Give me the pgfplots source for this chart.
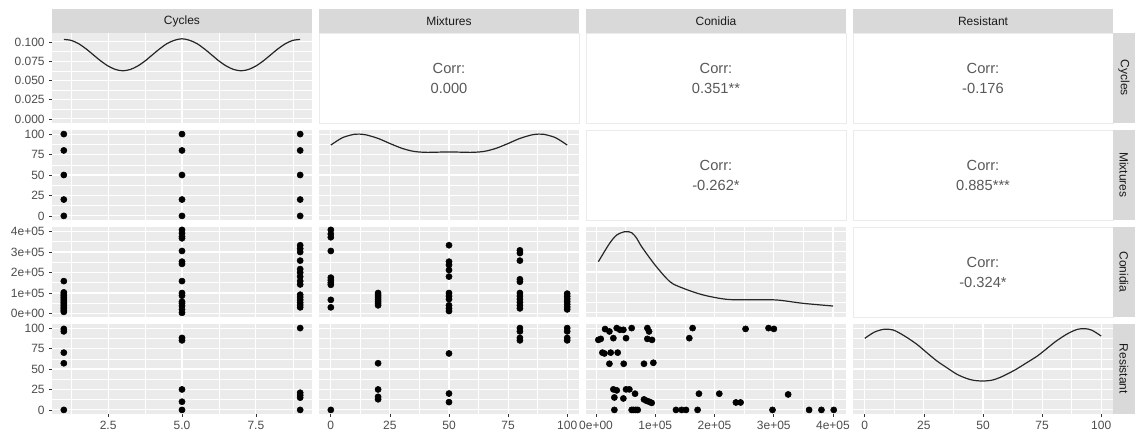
\documentclass[border=0pt]{standalone}
\usepackage{fontspec}
\setmainfont{Liberation Sans}
\usepackage{pgfplots}
\pgfplotsset{compat=1.18}
\definecolor{ggbg}{HTML}{EBEBEB}
\definecolor{ggstrip}{HTML}{D9D9D9}
\definecolor{ggtext}{HTML}{4D4D4D}
\definecolor{ggstriptext}{HTML}{1A1A1A}
\definecolor{ggcorr}{HTML}{595959}
\definecolor{ggtick}{HTML}{333333}
\pgfplotsset{
 gg/.style={
  scale only axis, width=195pt, height=67.5pt, anchor=north west,
  axis background/.style={fill=ggbg},
  axis line style={draw=none},
  xmajorgrids, ymajorgrids, xminorgrids, yminorgrids,
  major grid style={white, line width=0.8pt},
  minor grid style={white, line width=0.4pt},
  major tick length=2pt, minor tick length=0pt,
  tick align=outside,
  tick style={draw=none},
  scaled x ticks=false, scaled y ticks=false,
  xticklabels={}, yticklabels={},
  ticklabel style={font=\fontsize{9}{10}\selectfont, text=ggtext},
  clip=false,
 },
 cyclesx/.style={xmin=0.6,xmax=9.4, xtick={2.5,5,7.5}, minor xtick={1.25,3.75,6.25,8.75}},
 mixx/.style={xmin=-5,xmax=105, xtick={0,25,50,75,100}, minor xtick={12.5,37.5,62.5,87.5}},
 conx/.style={xmin=-17000,xmax=422000, xtick={0,100000,200000,300000,400000}, minor xtick={50000,150000,250000,350000}},
 mixy/.style={ymin=-5,ymax=105, ytick={0,25,50,75,100}, minor ytick={12.5,37.5,62.5,87.5}},
 cony/.style={ymin=-17000,ymax=422000, ytick={0,100000,200000,300000,400000}, minor ytick={50000,150000,250000,350000}},
 densy/.style={ymin=-0.05,ymax=1.05, ytick={0,0.25,0.5,0.75,1}, minor ytick={0.125,0.375,0.625,0.875}},
 leftlab/.style={ytick pos=left, ytick style={draw=ggtick, line width=0.5pt}, yticklabels={#1}},
 botlab/.style={xtick pos=bottom, xtick style={draw=ggtick, line width=0.5pt}, xticklabels={#1}},
 pts/.style={only marks, mark=*, mark size=2.3pt, black},
 dens/.style={no marks, smooth, line width=0.9pt, black!85},
}
\begin{document}
\begin{tikzpicture}
\path[use as bounding box, fill=white] (0,0) rectangle (851.25pt,-330.75pt);

% ---------- Row 1 ----------
\begin{axis}[gg, cyclesx, at={(39pt,-24.75pt)},
  ymin=-0.0053, ymax=0.1116, ytick={0,0.025,0.05,0.075,0.1},
  minor ytick={0.0125,0.0375,0.0625,0.0875},
  leftlab={0.000,0.025,0.050,0.075,0.100}]
\addplot[dens] coordinates {
(1,0.1032)(1.25,0.1020)(1.5,0.0977)(1.75,0.0911)(2,0.0832)(2.25,0.0753)(2.5,0.0687)(2.75,0.0642)
(3,0.0625)(3.25,0.0642)(3.5,0.0687)(3.75,0.0753)(4,0.0833)(4.25,0.0912)(4.5,0.0980)(4.75,0.1022)
(5,0.1041)(5.25,0.1022)(5.5,0.0980)(5.75,0.0912)(6,0.0833)(6.25,0.0753)(6.5,0.0687)(6.75,0.0642)
(7,0.0625)(7.25,0.0642)(7.5,0.0687)(7.75,0.0753)(8,0.0832)(8.25,0.0911)(8.5,0.0977)(8.75,0.1020)(9,0.1032)};
\end{axis}

% ---------- Row 2 ----------
\begin{axis}[gg, cyclesx, mixy, at={(39pt,-97.5pt)}, leftlab={0,25,50,75,100}]
\addplot[pts] coordinates {
(1,0)(1,20)(1,50)(1,80)(1,100)(5,0)(5,20)(5,50)(5,80)(5,100)(9,0)(9,20)(9,50)(9,80)(9,100)};
\end{axis}
\begin{axis}[gg, mixx, densy, at={(239.25pt,-97.5pt)}]
\addplot[dens] coordinates {
(0,0.866)(5,0.957)(10,0.998)(12,1.000)(15,0.990)(20,0.947)(25,0.885)(30,0.827)(35,0.789)(40,0.777)
(45,0.779)(50,0.782)(55,0.779)(60,0.777)(65,0.789)(70,0.827)(75,0.885)(80,0.947)(85,0.990)(88,1.000)
(90,0.998)(95,0.957)(100,0.866)};
\end{axis}

% ---------- Row 3 ----------
\begin{axis}[gg, cyclesx, cony, at={(39pt,-170.25pt)}, leftlab={0e+00,1e+05,2e+05,3e+05,4e+05}]
\addplot[pts] coordinates {
(1,158000)(1,103000)(1,95000)(1,87000)(1,79000)(1,71000)(1,63000)(1,55000)(1,47000)(1,39000)(1,31000)(1,23000)(1,15000)(1,8000)
(5,408000)(5,392000)(5,375000)(5,367000)(5,305000)(5,253000)(5,242000)(5,158000)(5,100000)(5,87000)(5,58000)(5,50000)(5,37000)(5,20000)(5,3300)
(9,333000)(9,316700)(9,300000)(9,258000)(9,216700)(9,200000)(9,180000)(9,158300)(9,141700)(9,91700)(9,80000)(9,66700)(9,53300)(9,41700)(9,30000)};
\end{axis}
\begin{axis}[gg, mixx, cony, at={(239.25pt,-170.25pt)}]
\addplot[pts] coordinates {
(0,408000)(0,388000)(0,372000)(0,305000)(0,175000)(0,163000)(0,150000)(0,140000)(0,66700)(0,30000)
(20,100000)(20,90000)(20,80000)(20,70000)(20,60000)(20,50000)(20,40000)
(50,333000)(50,253000)(50,237000)(50,212000)(50,180000)(50,100000)(50,85000)(50,70000)(50,40000)(50,25000)(50,12000)
(80,308000)(80,295000)(80,258000)(80,167000)(80,155000)(80,100000)(80,85000)(80,70000)(80,55000)(80,40000)(80,25000)
(100,97000)(100,84000)(100,71000)(100,58000)(100,45000)(100,32000)(100,20000)};
\end{axis}
\begin{axis}[gg, conx, densy, at={(439.5pt,-170.25pt)}]
\addplot[dens] coordinates {
(3900,0.626)(12400,0.729)(23600,0.858)(34900,0.952)(48900,0.993)(60100,0.980)(68600,0.912)(77000,0.809)
(99500,0.586)(124800,0.381)(147200,0.301)(181000,0.219)(220400,0.166)(260000,0.160)(304700,0.158)
(349600,0.117)(400200,0.084)};
\end{axis}

% ---------- Row 4 ----------
\begin{axis}[gg, cyclesx, mixy, at={(39pt,-243pt)}, leftlab={0,25,50,75,100}, botlab={2.5,5.0,7.5}]
\addplot[pts] coordinates {
(1,99)(1,96)(1,70)(1,57)(1,0)
(5,88)(5,85)(5,25)(5,10)(5,0)
(9,100)(9,21)(9,18)(9,15)(9,0)};
\end{axis}
\begin{axis}[gg, mixx, mixy, at={(239.25pt,-243pt)}, botlab={0,25,50,75,100}]
\addplot[pts] coordinates {
(0,0)(20,57)(20,25)(20,16)(20,13)(50,69)(50,20)(50,9.5)
(80,100)(80,96)(80,88)(80,85)(100,100)(100,96)(100,88)(100,85)};
\end{axis}
\begin{axis}[gg, conx, mixy, at={(439.5pt,-243pt)}, botlab={0e+00,1e+05,2e+05,3e+05,4e+05}]
\addplot[pts] coordinates {
(15200,98.8)(22500,95.9)(34900,100)(40500,97.9)(46100,97.9)(60100,100)(86600,100)(89400,95.9)(163000,100)(252400,99)(291200,100)(300200,99)
(3900,85.6)(7900,86.8)(29200,87.7)(50600,87.7)(86600,86.8)(94400,85.6)(157400,87.7)
(10700,70)(14100,69)(24700,70)(36500,70)
(22500,56.4)(46700,56.4)(80900,56.4)(96700,57.6)
(29200,25.1)(34900,23.9)(50600,25.1)(56200,25.1)(65800,19.8)(173700,19.8)(208000,19.8)(324300,18.9)
(30900,15.2)(46100,14)(80900,12.8)(85400,11.1)(89900,9.9)(93900,8.6)(236100,9.1)(244000,9.1)
(30900,0)(60100,0)(63000,0)(66900,0)(70300,0)(134900,0)(144500,0)(151800,0)(171400,0)(297900,0)(359700,0)(380500,0)(401300,0)};
\end{axis}
\begin{axis}[gg, mixx, densy, at={(639.75pt,-243pt)}, botlab={0,25,50,75,100}]
\addplot[dens] coordinates {
(0,0.875)(4,0.950)(8,0.985)(12,0.977)(17,0.900)(22,0.802)(26,0.705)(30.5,0.598)(35,0.510)(39,0.435)
(43,0.385)(46,0.362)(50,0.353)(54,0.365)(57,0.394)(60,0.435)(64,0.496)(68,0.568)(73,0.659)(77,0.750)
(81,0.842)(86,0.935)(90,0.985)(93,0.993)(96,0.975)(100,0.903)};
\end{axis}

% ---------- Correlation panels ----------
\tikzset{corrbox/.style={fill=white, draw=ggbg, line width=0.6pt},
         corrtxt/.style={text=ggcorr, font=\fontsize{11}{12}\selectfont, inner sep=0pt}}
\foreach \cx/\ry/\val in {239.25/-24.75/0.000, 439.5/-24.75/0.351**, 639.75/-24.75/-0.176,
                          439.5/-97.5/-0.262*, 639.75/-97.5/0.885***, 639.75/-170.25/-0.324*}{
  \draw[corrbox] (\cx pt,\ry pt) rectangle ++(195pt,-67.5pt);
  \node[corrtxt] at ([xshift=97.5pt,yshift=-26.25pt]\cx pt,\ry pt) {Corr:};
  \node[corrtxt] at ([xshift=97.5pt,yshift=-41.25pt]\cx pt,\ry pt) {\val};
}

% ---------- Strips ----------
\tikzset{striptxt/.style={text=ggstriptext, font=\fontsize{9}{10}\selectfont, inner sep=0pt}}
\foreach \cx/\name in {39/Cycles, 239.25/Mixtures, 439.5/Conidia, 639.75/Resistant}{
  \fill[ggstrip] (\cx pt,-6.75pt) rectangle ++(195pt,-18pt);
  \node[striptxt] at ([xshift=97.5pt]\cx pt,-15.75pt) {\name};
}
\foreach \ry/\name in {-24.75/Cycles, -97.5/Mixtures, -170.25/Conidia, -243/Resistant}{
  \fill[ggstrip] (834.75pt,\ry pt) rectangle (851.25pt,\ry pt-67.5pt);
  \node[striptxt, rotate=-90] at ([yshift=-33.75pt]843pt,\ry pt) {\name};
}
\end{tikzpicture}
\end{document}
